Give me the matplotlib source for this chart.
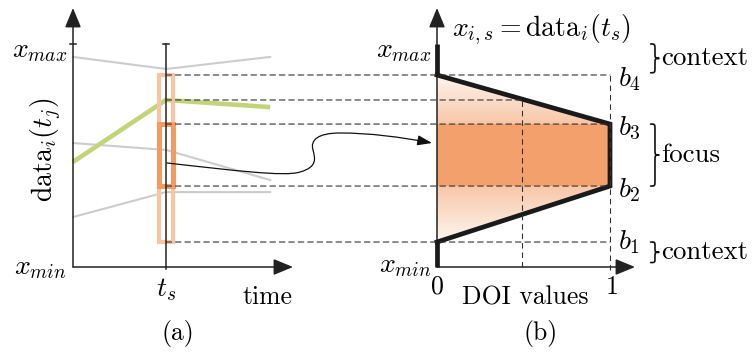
import numpy as np
import matplotlib
matplotlib.use("Agg")
import matplotlib.pyplot as plt
from matplotlib.path import Path
from matplotlib.patches import PathPatch, FancyArrowPatch, Rectangle, Polygon, ConnectionPatch

plt.rcParams["mathtext.fontset"] = "cm"
plt.rcParams["axes.unicode_minus"] = False

# ---- data ---------------------------------------------------------------
times = [0.0, 1.0, 2.12]                 # t_0, t_s, t_end
t_s = 1.0
context_series = [                       # grey background series
    [0.942, 0.888, 0.942],
    [0.556, 0.525, 0.390],
    [0.224, 0.336, 0.336],
]
highlight_series = [0.471, 0.749, 0.717]  # selected series (green)
bounds = [0.112, 0.363, 0.641, 0.861]     # b1, b2, b3, b4
bound_labels = ["$b_1$", "$b_2$", "$b_3$", "$b_4$"]
doi_levels = [0.0, 1.0, 1.0, 0.0]         # DOI value at b1..b4
x_min_val, x_max_val = 0.0, 1.0

# ---- style --------------------------------------------------------------
AX = "#222222"
GREY = "#cccccc"
GREEN = "#c3d37a"
ORANGE = "#f4a06c"
ORANGE_DARK = "#f59b62"
ORANGE_LIGHT = "#f9c4a2"
FS = 18.5      # roman text
FSM = 20       # math text
SERIF = "cmr10"

W, H = 752, 352
fig = plt.figure(figsize=(W / 100, H / 100), dpi=100)


def box(x0, x1, yb, yt):
    return [x0 / W, 1 - yb / H, (x1 - x0) / W, (yb - yt) / H]


VTOP = 259 / 223
axL = fig.add_axes(box(73, 293, 267, 8))
axL.set_xlim(0, 220 / 93)
axL.set_ylim(0, VTOP)
axR = fig.add_axes(box(437, 635, 267, 8))
axR.set_xlim(0, 198 / 173)
axR.set_ylim(0, VTOP)
for ax in (axL, axR):
    ax.set_axis_off()


def axis_arrow(ax, start, end):
    ax.annotate("", xy=end, xytext=start,
                arrowprops=dict(arrowstyle="-|>,head_length=0.8,head_width=0.33",
                                lw=1.1, color=AX, shrinkA=0, shrinkB=0,
                                mutation_scale=15), annotation_clip=False)


# ---- left panel: time series --------------------------------------------
for vals in context_series:
    axL.plot(times, vals, color=GREY, lw=1.5, clip_on=False, zorder=2)
axL.plot(times, highlight_series, color=GREEN, lw=3.3, clip_on=False, zorder=3,
         solid_capstyle="butt")

rw = 0.075
axL.add_patch(Rectangle((t_s - rw, bounds[0]), 2 * rw, bounds[3] - bounds[0],
                        fill=False, ec=ORANGE_LIGHT, lw=3.0, zorder=4, clip_on=False))
axL.add_patch(Rectangle((t_s - rw, bounds[1]), 2 * rw, bounds[2] - bounds[1],
                        fill=False, ec=ORANGE_DARK, lw=3.6, zorder=5, clip_on=False))

axL.plot([t_s, t_s], [-0.01, x_max_val], color=AX, lw=1.1, zorder=6, clip_on=False)
axL.plot([t_s - 0.035, t_s + 0.035], [x_max_val] * 2, color=AX, lw=1.1, zorder=6, clip_on=False)
axL.plot([-0.035, 0.035], [x_max_val] * 2, color=AX, lw=1.1, zorder=6, clip_on=False)

axis_arrow(axL, (0, 0), (0, VTOP))
axis_arrow(axL, (0, 0), (220 / 93, 0))

axL.text(-0.065, 0.975, "$x_{max}$", fontsize=FSM, ha="right", va="center")
axL.text(-0.065, 0.0, "$x_{min}$", fontsize=FSM, ha="right", va="center")
axL.text(-0.29, 0.525, r"$\mathrm{data}_i(t_j)$", fontsize=FSM, ha="center",
         va="center", rotation=90)
axL.text(t_s, -0.10, "$t_s$", fontsize=FSM, ha="center", va="center")
axL.text(2.09, -0.135, "time", fontsize=FS, family=SERIF, ha="center", va="center")
axL.text(1.13, -0.30, "(a)", fontsize=FS, family=SERIF, ha="center", va="center")

# ---- right panel: DOI function ------------------------------------------
v_grid = np.linspace(bounds[0], bounds[3], 400)
doi = np.interp(v_grid, bounds, doi_levels)
focus = (v_grid >= bounds[1]) & (v_grid <= bounds[2])
alpha = np.where(focus, 1.0, 0.1 + 0.5 * doi)
rgb = np.array(matplotlib.colors.to_rgb(ORANGE))
img = np.ones((len(v_grid), 1, 4))
img[:, 0, :3] = rgb
img[:, 0, 3] = alpha
trap = Polygon(list(zip(doi_levels, bounds)), closed=True, transform=axR.transData)
im = axR.imshow(img, extent=(0, 1, bounds[0], bounds[3]), origin="lower",
                aspect="auto", interpolation="nearest", zorder=1)
im.set_clip_path(trap)

axR.plot(doi_levels, bounds, color="#1a1a1a", lw=3.4, zorder=5,
         solid_joinstyle="miter", clip_on=False)
axR.plot([0, 0], [bounds[3], x_max_val], color="#1a1a1a", lw=3.4, zorder=5,
         solid_capstyle="butt", clip_on=False)
axR.plot([0, 0], [x_min_val, bounds[0]], color="#1a1a1a", lw=3.4, zorder=5,
         solid_capstyle="butt", clip_on=False)

axis_arrow(axR, (0, 0), (0, VTOP))
axis_arrow(axR, (0, 0), (198 / 173, 0))

# dashed guides linking both panels
dash_kw = dict(color="#333333", lw=0.8, linestyle=(0, (5, 3.5)))
g_val = highlight_series[1]
g_doi = float(np.interp(g_val, bounds[2:], doi_levels[2:][::-1]))
levels = list(bounds) + [g_val]
ends = [1.0, 1.0, 1.0, 1.0, g_doi]
for v, e in zip(levels, ends):
    con = ConnectionPatch(xyA=(t_s, v), coordsA=axL.transData,
                          xyB=(e, v), coordsB=axR.transData, zorder=7, **dash_kw)
    fig.add_artist(con)
axR.plot([1.0, 1.0], [-0.015, bounds[3]], clip_on=False, zorder=7, **dash_kw)
axR.plot([g_doi, g_doi], [0, g_val], clip_on=False, zorder=7, **dash_kw)


# curved connector from t_s to the value axis
def px(x, y):
    return ((x - 73) / 93, (267 - y) / 223)


pts = [px(167, 163),
       px(230, 170), px(285, 177), px(300, 172),
       px(318, 167), px(315, 158), px(313, 150),
       px(310, 140), px(318, 133), px(340, 133),
       px(370, 133), px(400, 137), px(432, 143)]
codes = [Path.MOVETO] + [Path.CURVE4] * 12
arrow = FancyArrowPatch(path=Path(pts, codes),
                        arrowstyle="-|>,head_length=0.8,head_width=0.28",
                        mutation_scale=11, lw=0.9, color="#111111",
                        transform=axL.transData, zorder=8)
fig.add_artist(arrow)


def brace(ax, x0, w, ya, yb, lw=1.2):
    ym = (ya + yb) / 2
    d = min(0.027, (yb - ya) / 4.5)
    x1, x2 = x0 + w / 2, x0 + w
    verts = [(x0, yb), (x1, yb), (x1, yb), (x1, yb - d),
             (x1, ym + d),
             (x1, ym), (x1, ym), (x2, ym),
             (x1, ym), (x1, ym), (x1, ym - d),
             (x1, ya + d),
             (x1, ya), (x1, ya), (x0, ya)]
    c = [Path.MOVETO, Path.CURVE4, Path.CURVE4, Path.CURVE4,
         Path.LINETO,
         Path.CURVE4, Path.CURVE4, Path.CURVE4,
         Path.CURVE4, Path.CURVE4, Path.CURVE4,
         Path.LINETO,
         Path.CURVE4, Path.CURVE4, Path.CURVE4]
    ax.add_patch(PathPatch(Path(verts, c), fill=False, lw=lw, ec="#111111",
                           clip_on=False, capstyle="round"))


bx, bw = 1.235, 0.05
brace_spans = [(bounds[3] + 0.01, x_max_val), (bounds[1], bounds[2]),
               (x_min_val + 0.02, bounds[0])]
brace_texts = ["context", "focus", "context"]
for (ya, yb), t in zip(brace_spans, brace_texts):
    brace(axR, bx, bw, ya, yb)
    axR.text(bx + bw + 0.012, (ya + yb) / 2, t, fontsize=FS + 0.8, family=SERIF,
             ha="left", va="center")

for v, lab in zip(bounds, bound_labels):
    axR.text(1.045, v - (0.0 if lab == "$b_1$" else 0.018), lab, fontsize=FSM,
             ha="left", va="center")

axR.text(-0.03, 0.975, "$x_{max}$", fontsize=FSM, ha="right", va="center")
axR.text(-0.03, 0.01, "$x_{min}$", fontsize=FSM, ha="right", va="center")
axR.text(0.085, 1.063, r"$x_{i,s} = \mathrm{data}_i(t_s)$", fontsize=FSM,
         ha="left", va="center")
axR.text(0.0, -0.09, "0", fontsize=FS, family=SERIF, ha="center", va="center")
axR.text(1.01, -0.09, "1", fontsize=FS, family=SERIF, ha="center", va="center")
axR.text(0.51, -0.138, "DOI values", fontsize=FS, family=SERIF, ha="center", va="center")
axR.text(0.60, -0.30, "(b)", fontsize=FS, family=SERIF, ha="center", va="center")

fig.savefig("out.png", dpi=100)
